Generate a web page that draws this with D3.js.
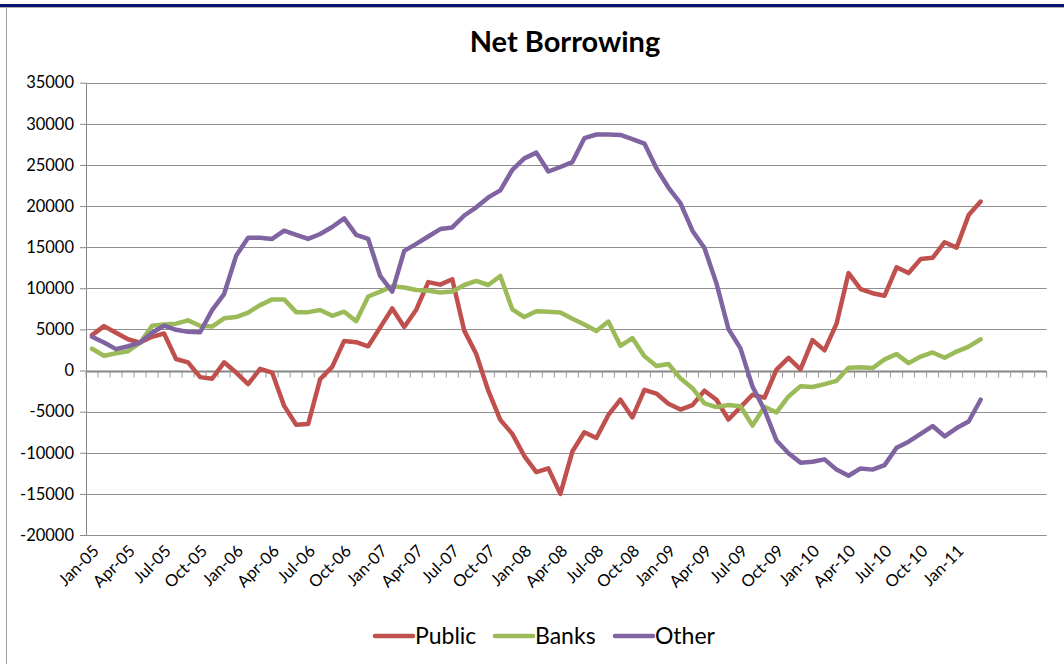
<!DOCTYPE html>
<html>
<head>
<meta charset="utf-8">
<script src="https://cdn.jsdelivr.net/npm/d3@7"></script>
<style>
  body { margin: 0; background: #fff; }
  svg { display: block; }
  text { font-family: Lato, "Open Sans", sans-serif; fill: #000; }
</style>
</head>
<body>
<div id="chart"></div>
<script>
// month labels, Jan-05 .. Mar-11
const months = [];
const monthNames = ["Jan","Feb","Mar","Apr","May","Jun","Jul","Aug","Sep","Oct","Nov","Dec"];
for (var yr = 5; yr <= 11; yr++) {
    for (var m = 0; m < 12; m++) {
        if (yr === 11 && m > 2) break;
        months.push(monthNames[m] + "-" + String(yr).padStart(2, "0"));
    }
}
// excel axis keeps a few empty slots after the last month
const emptySlots = 5;

const publicVals = [4300, 5400, 4600, 3800, 3400, 4100, 4500, 1400, 1000, -800,
    -1000, 1000, -250, -1650, 200, -250, -4300, -6600, -6500, -1050,
    450, 3600, 3450, 2950, 5250, 7550, 5300, 7400, 10750, 10450,
    11100, 4850, 2000, -2450, -6000, -7700, -10400, -12350, -11900, -15000,
    -9850, -7500, -8200, -5400, -3550, -5700, -2350, -2800, -4050, -4750,
    -4200, -2450, -3550, -5950, -4450, -2950, -3300, 100, 1550, 150,
    3700, 2450, 5700, 11850, 9900, 9400, 9100, 12550, 11850, 13550,
    13700, 15600, 14950, 18900, 20550];

const banksVals = [2650, 1800, 2100, 2350, 3350, 5450, 5600, 5700, 6100, 5450,
    5350, 6350, 6500, 7050, 7950, 8650, 8650, 7100, 7100, 7350,
    6650, 7150, 6000, 9000, 9600, 10250, 10100, 9800, 9700, 9500,
    9600, 10400, 10900, 10400, 11500, 7450, 6500, 7200, 7150, 7050,
    6300, 5600, 4800, 5950, 3000, 3950, 1750, 550, 800, -950,
    -2150, -4000, -4450, -4200, -4350, -6700, -4400, -5100, -3150, -1900,
    -2000, -1650, -1250, 350, 400, 300, 1350, 2000, 900, 1700,
    2200, 1550, 2300, 2900, 3800];

const otherVals = [4100, 3400, 2600, 2950, 3400, 4600, 5450, 4950, 4700, 4650,
    7350, 9300, 13950, 16150, 16150, 16000, 17000, 16500, 16000, 16600,
    17450, 18500, 16500, 16000, 11500, 9600, 14550, 15400, 16300, 17200,
    17400, 18850, 19850, 21050, 21900, 24400, 25800, 26500, 24200, 24750,
    25350, 28250, 28700, 28700, 28650, 28150, 27600, 24600, 22250, 20350,
    17000, 14900, 10600, 5050, 2700, -1950, -4800, -8500, -10050, -11200,
    -11100, -10800, -12050, -12800, -11900, -12050, -11500, -9400, -8650, -7700,
    -6750, -8000, -7000, -6200, -3550];

const seriesNames = ["Public", "Banks", "Other"];
const seriesColors = ["#C0504D", "#9BBB59", "#8064A2"];
const yTicks = [-20000, -15000, -10000, -5000, 0, 5000, 10000, 15000, 20000, 25000, 30000, 35000];

const W = 1064, H = 664;
const margin = {top: 82.7, right: 17.3, bottom: 129, left: 86};

const svg = d3.select("#chart").append("svg")
    .attr("width", W)
    .attr("height", H);

// frame: navy bar on top + grey chart border
svg.append("rect").attr("x", 0).attr("y", 4).attr("width", W).attr("height", 3).attr("fill", "#0A1172");
svg.append("line").attr("x1", 0).attr("x2", W).attr("y1", 7.5).attr("y2", 7.5).attr("stroke", "#B0B0B0");
svg.append("line").attr("x1", 6.5).attr("x2", 6.5).attr("y1", 8).attr("y2", H).attr("stroke", "#A0A0A0");

const nSlots = months.length + emptySlots;
const x = d3.scaleBand()
    .domain(d3.range(nSlots))
    .range([margin.left, W - margin.right]);
const cx = i => x(i) + x.bandwidth() / 2;

const y = d3.scaleLinear()
    .domain([d3.min(yTicks), d3.max(yTicks)])
    .range([H - margin.bottom, margin.top]);

// gridlines + y labels
const yAxis = svg.append("g")
    .attr("transform", `translate(${margin.left},0)`)
    .call(d3.axisLeft(y).tickValues(yTicks).tickSize(6).tickSizeOuter(0).tickFormat(d => String(d)));
yAxis.select(".domain").attr("stroke", "#868686");
yAxis.selectAll(".tick line").attr("stroke", "#868686");
yAxis.selectAll(".tick text")
    .attr("x", -12)
    .style("font-size", "16.5px")
    .style("font-family", "Lato, sans-serif")
    .attr("fill", "#000");

svg.append("g").selectAll("line")
    .data(yTicks)
    .enter().append("line")
    .attr("x1", margin.left)
    .attr("x2", W - margin.right)
    .attr("y1", d => Math.round(y(d)) + 0.5)
    .attr("y2", d => Math.round(y(d)) + 0.5)
    .attr("stroke", "#8E8E8E")
    .attr("stroke-width", 1);

svg.select(".domain").raise();

// category axis at zero
const y0 = Math.round(y(0)) + 0.5;
svg.append("line")
    .attr("x1", margin.left).attr("x2", W - margin.right)
    .attr("y1", y0).attr("y2", y0)
    .attr("stroke", "#868686").attr("stroke-width", 2);
svg.append("g").selectAll("line")
    .data(d3.range(nSlots + 1))
    .enter().append("line")
    .attr("x1", d => (d < nSlots ? x(d) : W - margin.right))
    .attr("x2", d => (d < nSlots ? x(d) : W - margin.right))
    .attr("y1", y0)
    .attr("y2", y0 + 6)
    .attr("stroke", "#9A9A9A");

// x labels every 3 months, rotated
svg.append("g").selectAll("text")
    .data(months.filter((d, i) => i % 3 === 0))
    .enter().append("text")
    .attr("transform", d => `translate(${cx(months.indexOf(d)) + 4},${H - margin.bottom + 13}) rotate(-45)`)
    .attr("text-anchor", "end")
    .attr("dy", "0.35em")
    .style("font-size", "16.5px")
    .text(d => d);

// lines
const allSeries = [publicVals, banksVals, otherVals];
const line = d3.line()
    .x((d, i) => cx(i))
    .y(d => y(d));

svg.append("g").selectAll("path")
    .data(allSeries)
    .enter().append("path")
    .attr("d", d => line(d))
    .attr("fill", "none")
    .attr("stroke", (d, i) => seriesColors[i])
    .attr("stroke-width", 4.5)
    .attr("stroke-linejoin", "round")
    .attr("stroke-linecap", "round");

// title
svg.append("text")
    .attr("x", 565)
    .attr("y", 52)
    .attr("text-anchor", "middle")
    .style("font-size", "29px")
    .style("font-weight", "bold")
    .text("Net Borrowing");

// legend
const legendX = [375, 495, 615];
const legend = svg.append("g").selectAll("g")
    .data(seriesNames)
    .enter().append("g")
    .attr("transform", (d, i) => `translate(${legendX[i]},636)`);
legend.append("line")
    .attr("x1", 0).attr("x2", 38)
    .attr("stroke", (d, i) => seriesColors[i])
    .attr("stroke-width", 4.5)
    .attr("stroke-linecap", "round");
legend.append("text")
    .attr("x", 40)
    .attr("dy", "0.35em")
    .style("font-size", "23px")
    .text(d => d);
</script>
</body>
</html>
